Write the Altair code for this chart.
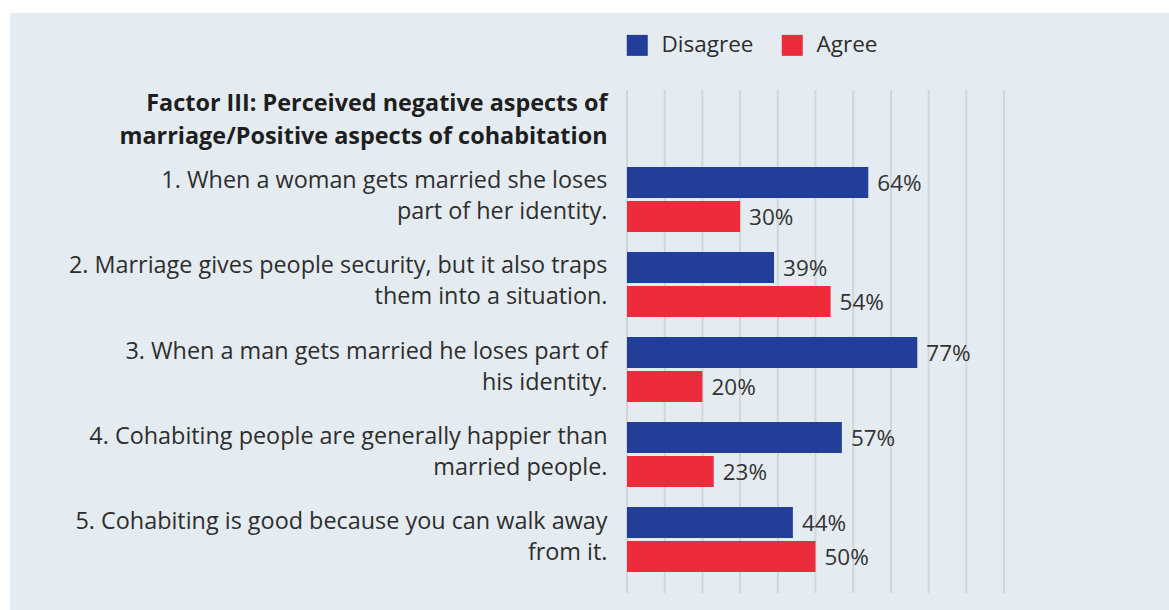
import altair as alt
import pandas as pd

items = [
    "1. When a woman gets married she loses|part of her identity.",
    "2. Marriage gives people security, but it also traps|them into a situation.",
    "3. When a man gets married he loses part of|his identity.",
    "4. Cohabiting people are generally happier than|married people.",
    "5. Cohabiting is good because you can walk away|from it.",
]
series = ["Disagree", "Agree"]
disagree = [64, 39, 77, 57, 44]
agree = [30, 54, 20, 23, 50]
grid_ticks = [0, 10, 20, 30, 40, 50, 60, 70, 80, 90, 100]
title_lines = ["Factor III: Perceived negative aspects of",
               "marriage/Positive aspects of cohabitation"]
colors = ["#223e98", "#ec2b3b"]

rows = []
for i, it in enumerate(items):
    rows.append({"item": it, "series": "Disagree", "value": disagree[i]})
    rows.append({"item": it, "series": "Agree", "value": agree[i]})
df = pd.DataFrame(rows)
df["label"] = df["value"].astype(str) + "%"
grid_df = pd.DataFrame({"g": grid_ticks})

FONT = "Open Sans"

y_enc = alt.Y(
    "item:N",
    sort=items,
    scale=alt.Scale(paddingInner=0.235, paddingOuter=0.576, align=0.786),
    axis=alt.Axis(
        title=title_lines,
        titleAngle=0, titleAlign="right", titleBaseline="alphabetic",
        titleX=-20, titleY=20, titleLineHeight=33,
        titleFontSize=23.4, titleFontWeight="bold", titleColor="#1e1e1e", titleFont=FONT,
        labelExpr="split(datum.label, '|')",
        labelAlign="right", labelBaseline="alphabetic", labelPadding=20,
        labelFontSize=23.4, labelLineHeight=31, labelColor="#2e2e2e", labelFont=FONT,
        labelLimit=700, labelOffset=-11,
        ticks=False, domain=False, grid=False, zindex=1,
    ),
)
yoff = alt.YOffset("series:N", sort=series,
                   scale=alt.Scale(paddingInner=0.088, paddingOuter=0))
x_scale = alt.Scale(domain=[0, 100], nice=False)

panel = alt.Chart(alt.Data(values=[{"a": 1}])).mark_rect(color="#e4ecf1").encode(
    x=alt.value(-617), x2=alt.value(542), y=alt.value(-77), y2=alt.value(520)
)

grid = alt.Chart(grid_df).mark_rule(color="#d2d6d9", strokeWidth=2).encode(
    x=alt.X("g:Q", scale=x_scale, axis=None)
)

bars = alt.Chart(df).mark_bar().encode(
    x=alt.X("value:Q", scale=x_scale, axis=None),
    y=y_enc,
    yOffset=yoff,
    color=alt.Color(
        "series:N",
        scale=alt.Scale(domain=series, range=colors),
        legend=alt.Legend(
            title=None, orient="none", direction="horizontal",
            legendX=-1, legendY=-56,
            symbolType="square", symbolSize=441, symbolStrokeWidth=0,
            symbolOpacity=1,
            labelFontSize=22.5, labelColor="#2e2e2e", labelFont=FONT,
            labelOffset=13, columnPadding=27,
        ),
    ),
)

texts = alt.Chart(df).mark_text(
    align="left", baseline="middle", dx=9, dy=1.5, fontSize=22.5, color="#333333", font=FONT
).encode(
    x="value:Q",
    y=alt.Y("item:N", sort=items),
    yOffset=alt.YOffset("series:N", sort=series),
    text="label:N",
)

chart = alt.layer(panel, grid, bars, texts).properties(
    width=377, height=503,
    background="white",
    padding={"left": 10, "top": 13, "right": 0, "bottom": 0},
).configure_view(stroke=None)

chart.save("out.html", embed_options={"renderer": "svg", "actions": False})
